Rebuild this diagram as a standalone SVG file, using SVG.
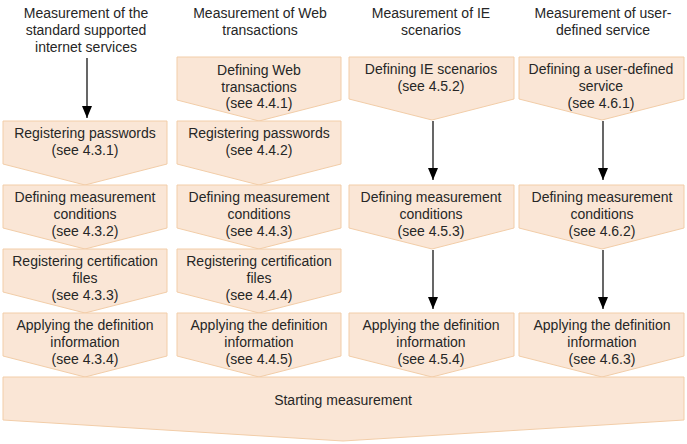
<svg xmlns="http://www.w3.org/2000/svg" width="687" height="444" viewBox="0 0 687 444">
<style>
.box{fill:#FAE6D6;stroke:#F2CDA8;stroke-width:1}
text{font-family:"Liberation Sans",Arial,sans-serif;font-size:14px;fill:#262626;text-anchor:middle}
.conn{stroke:#000;stroke-width:1.2;fill:none}
</style>
<defs>
<marker id="ah" markerWidth="12" markerHeight="10" refX="12" refY="5" orient="auto" markerUnits="userSpaceOnUse" viewBox="0 0 12 10">
<path d="M0,0 L12,5 L0,10 Z" fill="#000"/>
</marker>
</defs>
<rect width="687" height="444" fill="#fff"/>
<g id="headers">
<text x="86" y="18">Measurement of the</text>
<text x="86" y="35">standard supported</text>
<text x="86" y="52">internet services</text>
<text x="260" y="18">Measurement of Web</text>
<text x="260" y="35">transactions</text>
<text x="431" y="18">Measurement of IE</text>
<text x="431" y="35">scenarios</text>
<text x="603" y="18">Measurement of user-</text>
<text x="603" y="35">defined service</text>
</g>
<g id="c1r2"><path class="box" d="M3,121 H167 V164 L85,185 L3,164 Z"/><text x="85" y="138">Registering passwords</text><text x="85" y="155">(see 4.3.1)</text></g>
<g id="c1r3"><path class="box" d="M3,185 H167 V228 L85,249 L3,228 Z"/><text x="85" y="202">Defining measurement</text><text x="85" y="219">conditions</text><text x="85" y="236">(see 4.3.2)</text></g>
<g id="c1r4"><path class="box" d="M3,249 H167 V292 L85,313 L3,292 Z"/><text x="85" y="266">Registering certification</text><text x="85" y="283">files</text><text x="85" y="300">(see 4.3.3)</text></g>
<g id="c1r5"><path class="box" d="M3,313 H167 V356 L85,377 L3,356 Z"/><text x="85" y="330">Applying the definition</text><text x="85" y="347">information</text><text x="85" y="364">(see 4.3.4)</text></g>
<g id="c2r1"><path class="box" d="M177,57 H341 V100 L259,121 L177,100 Z"/><text x="259" y="75">Defining Web</text><text x="259" y="92">transactions</text><text x="259" y="108">(see 4.4.1)</text></g>
<g id="c2r2"><path class="box" d="M177,121 H341 V164 L259,185 L177,164 Z"/><text x="259" y="138">Registering passwords</text><text x="259" y="155">(see 4.4.2)</text></g>
<g id="c2r3"><path class="box" d="M177,185 H341 V228 L259,249 L177,228 Z"/><text x="259" y="202">Defining measurement</text><text x="259" y="219">conditions</text><text x="259" y="236">(see 4.4.3)</text></g>
<g id="c2r4"><path class="box" d="M177,249 H341 V292 L259,313 L177,292 Z"/><text x="259" y="266">Registering certification</text><text x="259" y="283">files</text><text x="259" y="300">(see 4.4.4)</text></g>
<g id="c2r5"><path class="box" d="M177,313 H341 V356 L259,377 L177,356 Z"/><text x="259" y="330">Applying the definition</text><text x="259" y="347">information</text><text x="259" y="364">(see 4.4.5)</text></g>
<g id="c3r1"><path class="box" d="M349,57 H514 V99 L432,120 L349,99 Z"/><text x="431" y="74">Defining IE scenarios</text><text x="431" y="91">(see 4.5.2)</text></g>
<g id="c3r3"><path class="box" d="M349,185 H514 V228 L432,249 L349,228 Z"/><text x="431" y="202">Defining measurement</text><text x="431" y="219">conditions</text><text x="431" y="236">(see 4.5.3)</text></g>
<g id="c3r5"><path class="box" d="M349,313 H514 V356 L432,377 L349,356 Z"/><text x="431" y="330">Applying the definition</text><text x="431" y="347">information</text><text x="431" y="364">(see 4.5.4)</text></g>
<g id="c4r1"><path class="box" d="M519,57 H684 V99 L602,120 L519,99 Z"/><text x="601" y="74">Defining a user-defined</text><text x="601" y="91">service</text><text x="601" y="108">(see 4.6.1)</text></g>
<g id="c4r3"><path class="box" d="M519,185 H684 V228 L602,249 L519,228 Z"/><text x="602" y="202">Defining measurement</text><text x="602" y="219">conditions</text><text x="602" y="236">(see 4.6.2)</text></g>
<g id="c4r5"><path class="box" d="M519,313 H684 V356 L602,377 L519,356 Z"/><text x="602" y="330">Applying the definition</text><text x="602" y="347">information</text><text x="602" y="364">(see 4.6.3)</text></g>
<g id="start"><path class="box" d="M3,377 H684 V420 L343,441 L3,420 Z"/><text x="343" y="405">Starting measurement</text></g>
<g id="connectors">
<line class="conn" x1="87" y1="58" x2="87" y2="118" marker-end="url(#ah)"/>
<line class="conn" x1="433" y1="121" x2="433" y2="180" marker-end="url(#ah)"/>
<line class="conn" x1="603" y1="121" x2="603" y2="180" marker-end="url(#ah)"/>
<line class="conn" x1="433" y1="250" x2="433" y2="309" marker-end="url(#ah)"/>
<line class="conn" x1="603" y1="250" x2="603" y2="309" marker-end="url(#ah)"/>
</g>
</svg>
